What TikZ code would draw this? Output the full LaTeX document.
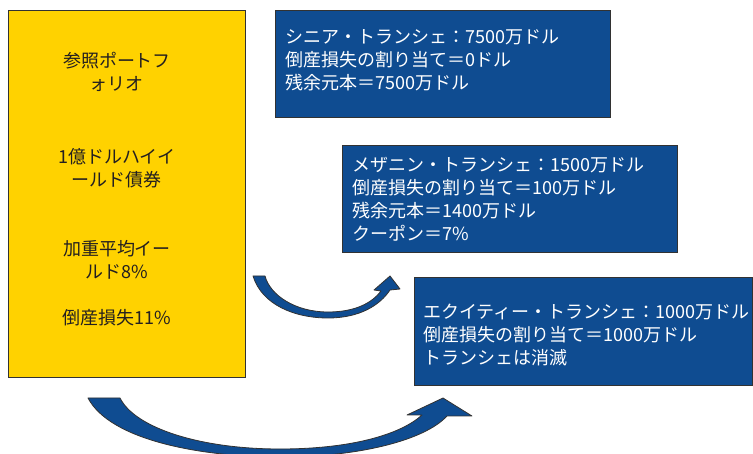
\documentclass[tikz,border=0pt]{standalone}
\usepackage{fontspec}
\setmainfont{Noto Sans CJK JP}
\definecolor{yfill}{RGB}{255,210,0}
\definecolor{bfill}{RGB}{15,76,145}
\definecolor{edgec}{RGB}{50,50,50}
\definecolor{ytextc}{RGB}{35,31,32}
\tikzset{
  ybox/.style={draw=edgec, line width=1.2pt, fill=yfill, anchor=north west, inner sep=0pt},
  ytext/.style={text=ytextc, align=center, font=\fontsize{18}{23}\selectfont, inner sep=0pt},
  bbox/.style={draw=edgec, line width=1.2pt, fill=bfill, anchor=north west, inner sep=0pt},
  btext/.style={text=white, anchor=west, align=left, inner sep=0pt,
    font=\fontsize{18}{23}\selectfont},
  barrow/.style={fill=bfill, draw=edgec, line width=0.8pt, line join=round}
}
\begin{document}
\begin{tikzpicture}[x=1pt,y=-1pt]
\useasboundingbox (0,0) rectangle (753,454);
% portfolio box
\node[ybox, minimum width=237pt, minimum height=367pt] (port) at (8,10) {};
\node[ytext] (p1) at (117,71.5) {参照ポートフ\\ォリオ};
\node[ytext] (p2) at (117,168.5) {1億ドルハイイ\\ールド債券};
\node[ytext] (p3) at (117,260) {加重平均イー\\ルド8\%};
\node[ytext] (p4) at (117,318) {倒産損失11\%};
% tranche boxes
\node[bbox, minimum width=335pt, minimum height=107pt] (senior) at (275,10) {};
\node[btext] (seniortxt) at (285,60.5)
  {シニア・トランシェ：7500万ドル\\倒産損失の割り当て＝0ドル\\残余元本＝7500万ドル};
\node[bbox, minimum width=335pt, minimum height=107pt] (mezz) at (342,145) {};
\node[btext] (mezztxt) at (352,199)
  {メザニン・トランシェ：1500万ドル\\倒産損失の割り当て＝100万ドル\\残余元本＝1400万ドル\\クーポン＝7\%};
\node[bbox, minimum width=338pt, minimum height=108pt] (equity) at (414,277) {};
\node[btext] (equitytxt) at (423,335)
  {エクイティー・トランシェ：1000万ドル\\倒産損失の割り当て＝1000万ドル\\トランシェは消滅};
% small curved arrow
\path[barrow] (253,276) .. controls (262,305) and (295,318) .. (328,318)
  .. controls (360,318) and (380,305) .. (390,290)
  -- (400,289) -- (390,276) -- (374,290) -- (381,291)
  .. controls (372,303) and (355,312) .. (328,312)
  .. controls (295,312) and (270,295) .. (265,276) -- cycle;
% big curved arrow
\path[barrow] (88,398) .. controls (110,440) and (200,457) .. (280,457)
  .. controls (360,457) and (425,440) .. (447,416)
  -- (472,416) -- (443,398) -- (407,415) -- (422,415)
  .. controls (400,435) and (350,449) .. (280,449)
  .. controls (200,449) and (135,428) .. (120,398) -- cycle;
\end{tikzpicture}
\end{document}
